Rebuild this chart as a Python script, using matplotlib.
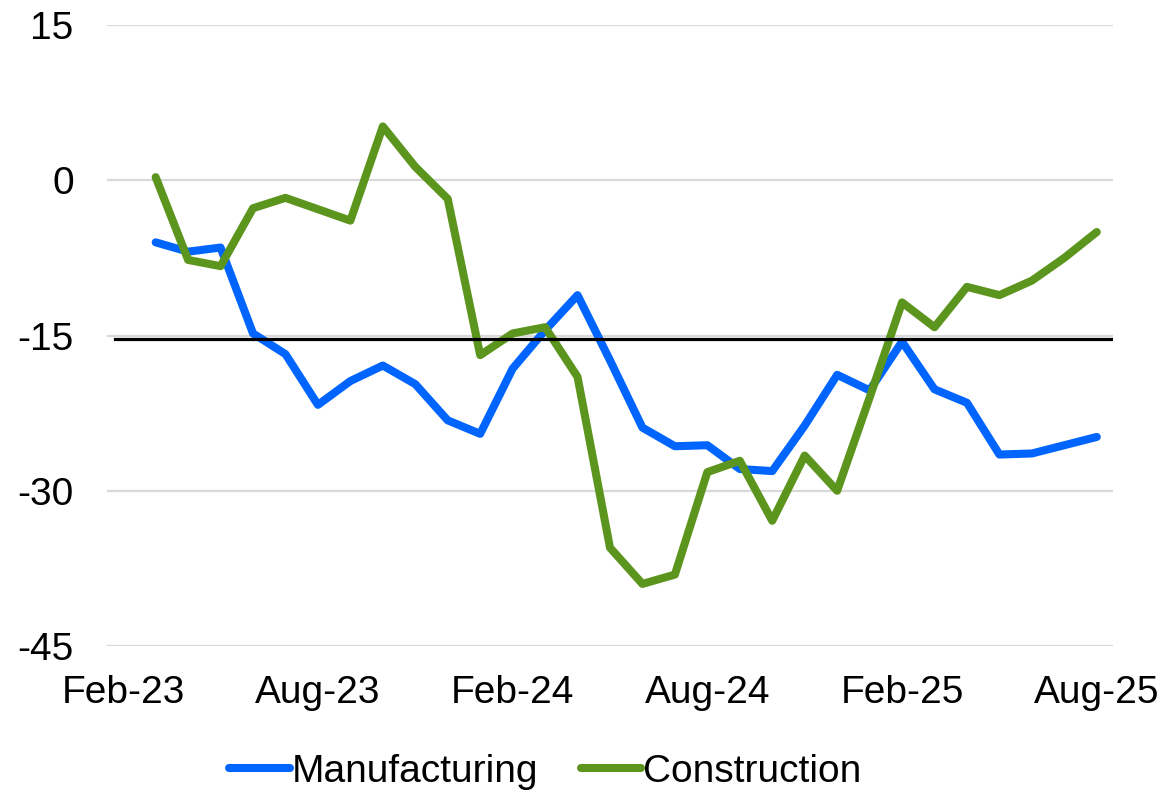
import numpy as np
import pandas as pd
from matplotlib import pyplot as plt

plt.rcParams['font.family'] = ['Liberation Sans', 'DejaVu Sans']
plt.rcParams['axes.unicode_minus'] = False

# monthly categories on the axis, Feb-23 .. Aug-25
months = pd.date_range('2023-02-01', '2025-08-01', freq='MS')
tick_every = 6

# survey balances, Mar-23 .. Aug-25
manufacturing = [-6.0, -6.9, -6.5, -14.8, -16.8, -21.7, -19.4, -17.9, -19.7, -23.2,
                 -24.5, -18.2, -14.5, -11.1, -17.4, -23.9, -25.7, -25.6, -27.9, -28.1,
                 -23.7, -18.8, -20.3, -15.6, -20.2, -21.5, -26.5, -26.4, -25.6, -24.8]
construction = [0.3, -7.7, -8.3, -2.7, -1.7, -2.8, -3.9, 5.2, 1.3, -1.8,
                -16.9, -14.8, -14.2, -19.0, -35.5, -39.0, -38.1, -28.2, -27.1, -32.9,
                -26.6, -30.0, -21.0, -11.8, -14.2, -10.3, -11.1, -9.7, -7.5, -5.0]
long_run_avg = -15.3

x_all = np.arange(len(months))
x_data = x_all[len(months) - len(manufacturing):]

fig = plt.figure(figsize=(11.68, 7.91), dpi=100)
ax = fig.add_axes([0.0916, 0.1833, 0.8613, 0.7851])

ax.plot(x_data, manufacturing, color='#0064ff', lw=5.8, label='Manufacturing',
        solid_joinstyle='round', solid_capstyle='round', zorder=3)
ax.plot(x_data, construction, color='#5c951d', lw=5.8, label='Construction',
        solid_joinstyle='round', solid_capstyle='round', zorder=4)
ax.axhline(long_run_avg, xmin=0.008, color='black', lw=2.3, zorder=5)

ax.set_xlim(-0.5, len(months) - 0.5)
ax.set_ylim(-45, 15)
ax.set_yticks([15, 0, -15, -30, -45])
ax.set_xticks(x_all[::tick_every])
ax.set_xticklabels([m.strftime('%b-%y') for m in months[::tick_every]])
ax.grid(axis='y', color='#d9d9d9', lw=1.6, zorder=0)
ax.set_axisbelow(True)
for s in ax.spines.values():
    s.set_visible(False)
ax.tick_params(axis='both', length=0, labelsize=28)
ax.tick_params(axis='y', pad=24)
ax.tick_params(axis='x', pad=21)

fig.legend(loc='center', bbox_to_anchor=(0.467, 0.024), ncol=2, frameon=False,
           fontsize=28, handlelength=1.55, handletextpad=0.05, columnspacing=1.1,
           borderaxespad=0, borderpad=0)

fig.savefig('out.png', dpi=100)
